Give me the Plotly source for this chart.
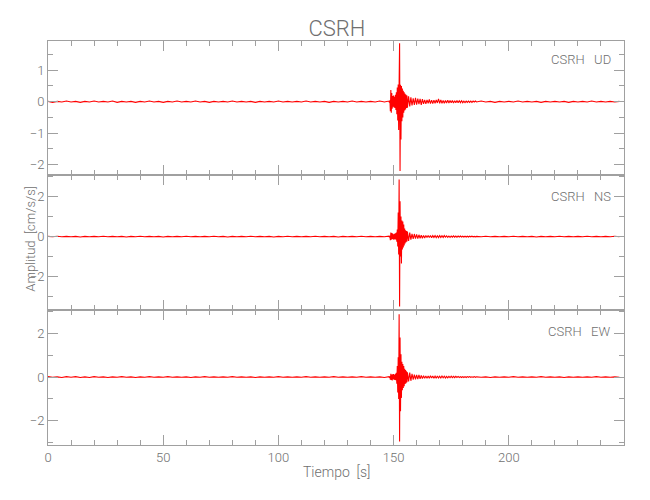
import plotly.graph_objects as go
from plotly.subplots import make_subplots

# ---------------- data ----------------
title_text = "CSRH"
components = ["UD", "NS", "EW"]
station = "CSRH"

# sampling segments: (start time [s], step [s])
seg_pre = (0.0, 2.0)
seg_event = (148.0, 0.2)
seg_coda = (156.0, 0.5)
seg_post = (186.0, 2.0)

ud_pre = [0.01, -0.02, 0.01, -0.01, 0.02, -0.01, 0.01, -0.02, 0.01, -0.01,
          0.02, -0.01, 0.01, -0.01, 0.02, -0.02, 0.01, -0.01, 0.01, -0.02,
          0.01, -0.01, 0.02, -0.01, 0.01, -0.02, 0.01, -0.01, 0.02, -0.01,
          0.01, -0.01, 0.02, -0.01, 0.01, -0.02, 0.01, -0.01, 0.01, -0.01,
          0.02, -0.01, 0.01, -0.01, 0.01, -0.02, 0.01, -0.01, 0.01, -0.01,
          0.02, -0.01, 0.01, -0.01, 0.01, -0.01, 0.02, -0.01, 0.01, -0.01,
          0.01, -0.02, 0.01, -0.01, 0.01, -0.01, 0.02, -0.01, 0.01, -0.01,
          0.01, -0.01, 0.02, -0.01]
ud_event = [0.02, -0.03, 0.04, -0.30, 0.37, -0.35, 0.28, -0.22, 0.18, -0.16,
            0.20, -0.18, 0.16, -0.20, 0.22, -0.26, 0.30, -0.40, 0.45, -0.60,
            0.55, -0.90, 0.60, 1.86, -2.20, 0.54, -1.20, 0.50, -0.62, 0.42,
            -0.50, 0.35, -0.35, 0.30, -0.28, 0.25, -0.25, 0.22, -0.20, 0.20]
ud_coda = [-0.19, 0.17, -0.15, 0.14, -0.12, 0.11, -0.10, 0.12, -0.09, 0.10,
           -0.08, 0.09, -0.10, 0.08, -0.07, 0.06, -0.07, 0.06, -0.05, 0.07,
           -0.06, 0.05, -0.06, 0.05, -0.05, 0.06, -0.04, 0.09, -0.05, 0.06,
           -0.05, 0.04, -0.05, 0.04, -0.04, 0.05, -0.04, 0.04, -0.03, 0.04,
           -0.04, 0.03, -0.03, 0.04, -0.03, 0.03, -0.03, 0.03, -0.03, 0.02,
           -0.03, 0.02, -0.02, 0.02, -0.02, 0.02, -0.02, 0.02, -0.01, 0.02]
ud_post = [-0.01, 0.02, -0.01, 0.01, -0.02, 0.01, -0.01, 0.01, -0.01, 0.02,
           -0.01, 0.01, -0.01, 0.01, -0.02, 0.01, -0.01, 0.01, -0.01, 0.01,
           -0.02, 0.01, -0.01, 0.01, -0.01, 0.02, -0.01, 0.01, -0.01, 0.01,
           -0.01, 0.01]

ns_pre = [0.01, -0.01, 0.02, -0.01, 0.01, -0.01, 0.01, -0.02, 0.01, -0.01,
          0.01, -0.01, 0.02, -0.01, 0.01, -0.01, 0.01, -0.02, 0.01, -0.01,
          0.02, -0.01, 0.01, -0.01, 0.01, -0.02, 0.01, -0.01, 0.01, -0.01,
          0.02, -0.01, 0.01, -0.01, 0.01, -0.01, 0.02, -0.01, 0.01, -0.02,
          0.01, -0.01, 0.01, -0.01, 0.02, -0.01, 0.01, -0.01, 0.01, -0.02,
          0.01, -0.01, 0.02, -0.01, 0.01, -0.01, 0.01, -0.01, 0.02, -0.01,
          0.01, -0.01, 0.01, -0.02, 0.01, -0.01, 0.01, -0.01, 0.02, -0.01,
          0.01, -0.01, 0.01, -0.01]
ns_event = [0.02, -0.03, 0.04, -0.18, 0.20, -0.15, 0.18, -0.12, 0.15, -0.14,
            0.12, -0.16, 0.14, -0.12, 0.17, -0.15, 0.20, -0.25, 0.35, -0.50,
            1.20, -0.90, 2.85, -3.50, 1.77, -1.00, 1.00, -1.35, 0.80, -0.65,
            0.75, -0.55, 0.60, -0.45, 0.40, -0.35, 0.32, -0.28, 0.28, -0.24]
ns_coda = [0.25, -0.22, 0.20, -0.15, 0.14, -0.12, 0.13, -0.10, 0.11, -0.10,
           0.09, -0.08, 0.07, -0.08, 0.06, -0.07, 0.06, -0.05, 0.06, -0.05,
           0.05, -0.06, 0.05, -0.04, 0.05, -0.05, 0.04, -0.05, 0.05, -0.04,
           0.04, -0.04, 0.05, -0.03, 0.04, -0.04, 0.03, -0.04, 0.03, -0.03,
           0.04, -0.03, 0.03, -0.03, 0.03, -0.02, 0.03, -0.02, 0.02, -0.02,
           0.02, -0.02, 0.02, -0.02, 0.02, -0.01, 0.02, -0.01, 0.01, -0.01]
ns_post = [0.01, -0.01, 0.02, -0.01, 0.01, -0.01, 0.01, -0.01, 0.02, -0.01,
           0.01, -0.01, 0.01, -0.02, 0.01, -0.01, 0.01, -0.01, 0.02, -0.01,
           0.01, -0.01, 0.01, -0.01, 0.02, -0.01, 0.01, -0.01, 0.01, -0.01,
           0.02, -0.01]

ew_pre = [0.02, -0.01, 0.01, -0.02, 0.02, -0.01, 0.02, -0.02, 0.01, -0.02,
          0.02, -0.01, 0.01, -0.02, 0.01, -0.01, 0.02, -0.01, 0.01, -0.02,
          0.01, -0.01, 0.02, -0.01, 0.01, -0.01, 0.02, -0.01, 0.01, -0.01,
          0.01, -0.02, 0.01, -0.01, 0.02, -0.01, 0.01, -0.01, 0.01, -0.01,
          0.02, -0.01, 0.01, -0.01, 0.01, -0.02, 0.01, -0.01, 0.01, -0.01,
          0.02, -0.01, 0.01, -0.01, 0.01, -0.01, 0.02, -0.01, 0.01, -0.01,
          0.01, -0.01, 0.02, -0.01, 0.01, -0.01, 0.01, -0.01, 0.02, -0.01,
          0.01, -0.01, 0.01, -0.02]
ew_event = [0.02, -0.03, 0.03, -0.12, 0.15, -0.13, 0.12, -0.15, 0.13, -0.10,
            0.14, -0.12, 0.10, -0.13, 0.15, -0.14, 0.20, -0.30, 0.50, -0.70,
            0.90, -1.00, 2.87, -2.94, 1.80, -1.56, 1.04, -0.95, 0.70, -0.60,
            0.60, -0.50, 0.50, -0.42, 0.38, -0.32, 0.32, -0.28, 0.26, -0.24]
ew_coda = [0.22, -0.20, 0.20, -0.17, 0.15, -0.12, 0.11, -0.10, 0.10, -0.09,
           0.10, -0.08, 0.08, -0.07, 0.06, -0.06, 0.05, -0.06, 0.05, -0.05,
           0.06, -0.04, 0.05, -0.05, 0.04, -0.05, 0.05, -0.04, 0.04, -0.04,
           0.05, -0.03, 0.04, -0.04, 0.03, -0.04, 0.03, -0.03, 0.04, -0.03,
           0.03, -0.03, 0.03, -0.02, 0.03, -0.02, 0.02, -0.02, 0.02, -0.02,
           0.02, -0.02, 0.02, -0.01, 0.02, -0.01, 0.01, -0.01, 0.02, -0.01]
ew_post = [0.01, -0.01, 0.01, -0.02, 0.01, -0.01, 0.01, -0.01, 0.02, -0.01,
           0.01, -0.01, 0.01, -0.01, 0.02, -0.01, 0.01, -0.01, 0.01, -0.02,
           0.01, -0.01, 0.01, -0.01, 0.01, -0.01, 0.02, -0.01, 0.01, -0.01,
           0.01, -0.01]

y_ranges = [[-2.33, 1.93], [-3.67, 3.08], [-3.1, 3.06]]
y_ticks = [[-2, -1, 0, 1], [-2, 0, 2], [-2, 0, 2]]
y_minor = [0.5, 1.0, 1.0]
x_range = [0, 250]
x_ticks = [0, 50, 100, 150, 200]

# ---------------- build ----------------
def build(pre, event, coda, post):
    t, v = [], []
    for (start, step), vals in ((seg_pre, pre), (seg_event, event),
                                (seg_coda, coda), (seg_post, post)):
        for i, val in enumerate(vals):
            t.append(start + step * i)
            v.append(val)
    return t, v

traces = [build(ud_pre, ud_event, ud_coda, ud_post),
          build(ns_pre, ns_event, ns_coda, ns_post),
          build(ew_pre, ew_event, ew_coda, ew_post)]

FONT = "Roboto, sans-serif"
AX = "#a0a0a0"
TXT = "#707070"

fig = make_subplots(rows=3, cols=1, shared_xaxes=True, vertical_spacing=0)

H = 404.0
domains = [[270 / H, 1.0], [135 / H, 270 / H], [0.0, 135 / H]]
ann_y = [0.953, 0.616, 0.282]

for i, (t, v) in enumerate(traces):
    fig.add_trace(go.Scatter(x=t, y=v, mode="lines",
                             line=dict(color="#ff0000", width=1.1),
                             showlegend=False, hoverinfo="skip"),
                  row=i + 1, col=1)
    fig.update_yaxes(range=y_ranges[i], tickvals=y_ticks[i],
                     ticktext=[str(k).replace("-", "\u2212") for k in y_ticks[i]],
                     domain=domains[i],
                     showgrid=False, zeroline=False,
                     showline=True, linecolor=AX, linewidth=1, mirror="ticks",
                     ticks="inside", ticklen=10, tickcolor=AX,
                     minor=dict(ticks="inside", ticklen=5, dtick=y_minor[i],
                                tick0=0, tickcolor=AX, showgrid=False),
                     tickfont=dict(size=13, color=TXT, family=FONT, weight=300),
                     row=i + 1, col=1)
    fig.update_xaxes(range=x_range, tickvals=x_ticks,
                     showgrid=False, zeroline=False,
                     showline=True, linecolor=AX, linewidth=1, mirror="ticks",
                     ticks="inside", ticklen=10, tickcolor=AX,
                     minor=dict(ticks="inside", ticklen=5, dtick=10,
                                tick0=0, tickcolor=AX, showgrid=False),
                     tickfont=dict(size=13, color=TXT, family=FONT, weight=300),
                     row=i + 1, col=1)
    fig.add_annotation(text=f"{station}&nbsp;&nbsp;&nbsp;{components[i]}",
                       xref="paper", yref="paper",
                       x=0.981, y=ann_y[i],
                       xanchor="right", yanchor="middle", showarrow=False,
                       font=dict(size=13, color=TXT, family=FONT, weight=300))

fig.add_annotation(text="Amplitud  [cm/s/s]", textangle=-90,
                   xref="paper", yref="paper", x=-0.03, y=0.51,
                   xanchor="center", yanchor="middle", showarrow=False,
                   font=dict(size=13, color=TXT, family=FONT, weight=300))
fig.add_annotation(text="Tiempo  [s]",
                   xref="paper", yref="paper", x=0.5, y=-0.067,
                   xanchor="center", yanchor="middle", showarrow=False,
                   font=dict(size=14, color=TXT, family=FONT, weight=300))

fig.update_layout(
    width=650, height=500,
    margin=dict(l=40, r=34, t=33, b=63),
    paper_bgcolor="white", plot_bgcolor="white",
    title=dict(text=title_text, x=0.506, xref="container", xanchor="center",
               y=0.96, yanchor="middle",
               font=dict(size=22, color=TXT, family=FONT, weight=300)),
    font=dict(family=FONT, color=TXT),
)

fig.write_html("out.html")
